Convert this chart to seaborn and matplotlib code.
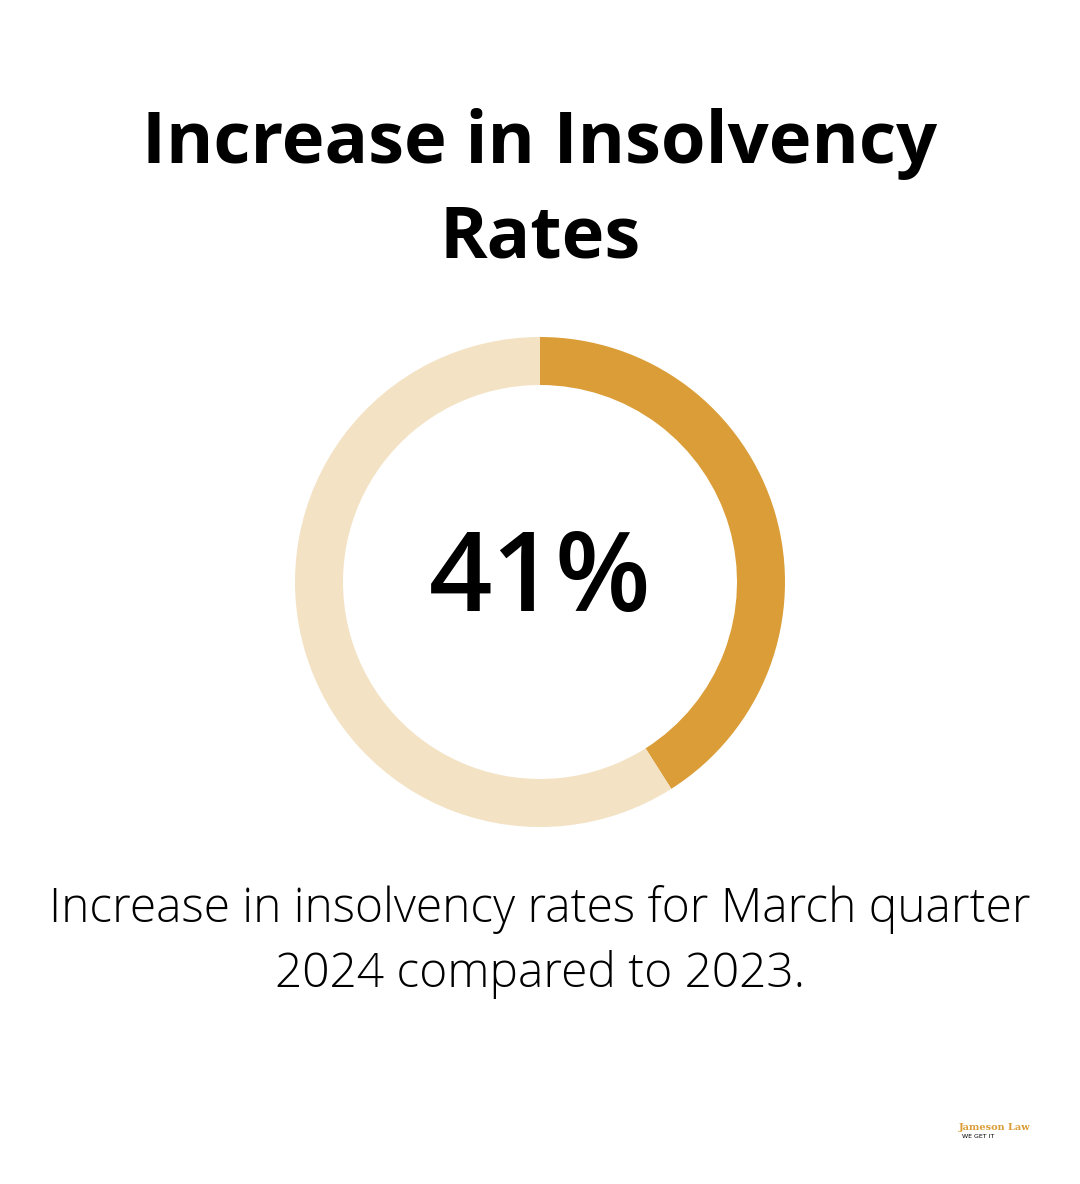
import matplotlib
matplotlib.use("Agg")
import matplotlib.pyplot as plt
import seaborn as sns

labels = ["Increase", "Remainder"]
values = [41, 59]
colors = ["#DB9D37", "#F3E2C3"]
title = "Increase in Insolvency\nRates"
center_label = "41%"
caption = "Increase in insolvency rates for March quarter\n2024 compared to 2023."

sns.set_theme(style="white")
fig = plt.figure(figsize=(10.8, 11.84), dpi=100)
fig.patch.set_facecolor("white")
ax = fig.add_axes([(540-245)/1080, 1-(582+245)/1184, 490/1080, 490/1184])
ax.pie(values, colors=colors, startangle=90, counterclock=False,
       wedgeprops=dict(width=48/245, linewidth=0))
ax.set_xlim(-1, 1)
ax.set_ylim(-1, 1)
ax.set_aspect("equal")
ax.axis("off")
ax.text(0, 0, center_label, ha="center", va="center", fontsize=80,
        fontfamily="Open Sans", fontweight="semibold", color="black")

fig.text(0.5, 1-191/1184, title, ha="center", va="center", fontsize=52,
         fontfamily="Open Sans", fontweight="bold", linespacing=1.4, color="black")
fig.text(0.5, 1-942/1184, caption, ha="center", va="center", fontsize=34.5,
         fontfamily="Open Sans", fontweight="light", linespacing=1.42, color="black")
fig.text(995/1080, 1-1127/1184, "Jameson Law", ha="center", va="center",
         fontsize=7, fontfamily="DejaVu Serif", fontweight="bold", color="#DB9D37")
fig.text(978/1080, 1-1137/1184, "WE GET IT", ha="center", va="center",
         fontsize=4.5, color="black")
fig.savefig("out.png", dpi=100, facecolor="white")
